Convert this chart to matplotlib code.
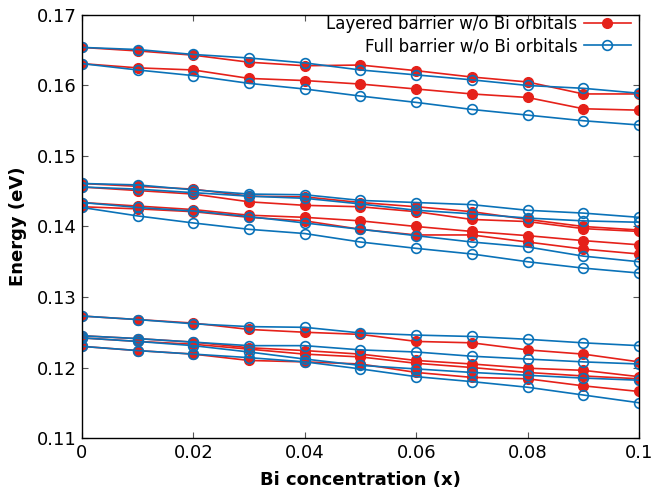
import matplotlib

matplotlib.use("Agg")
import matplotlib.pyplot as plt

# Bi concentration grid
bi_conc = [0.0, 0.01, 0.02, 0.03, 0.04, 0.05, 0.06, 0.07, 0.08, 0.09, 0.10]

# Layered barrier w/o Bi orbitals (eV), one list per level
layered_top_1 = [0.1654, 0.1649, 0.1643, 0.1633, 0.1628, 0.1629, 0.1621, 0.1612, 0.1605, 0.1588, 0.1588]
layered_top_2 = [0.1631, 0.1625, 0.1622, 0.1610, 0.1607, 0.1602, 0.1595, 0.1588, 0.1583, 0.1567, 0.1565]
layered_mid_1 = [0.1461, 0.1457, 0.1453, 0.1443, 0.1442, 0.1434, 0.1428, 0.1421, 0.1410, 0.1400, 0.1395]
layered_mid_2 = [0.1456, 0.1451, 0.1446, 0.1435, 0.1430, 0.1428, 0.1421, 0.1410, 0.1407, 0.1397, 0.1393]
layered_mid_3 = [0.1434, 0.1429, 0.1424, 0.1416, 0.1413, 0.1408, 0.1400, 0.1393, 0.1387, 0.1380, 0.1374]
layered_mid_4 = [0.1428, 0.1425, 0.1421, 0.1413, 0.1408, 0.1396, 0.1388, 0.1388, 0.1378, 0.1368, 0.1361]
layered_low_1 = [0.1273, 0.1268, 0.1263, 0.1254, 0.1250, 0.1247, 0.1237, 0.1235, 0.1225, 0.1219, 0.1208]
layered_low_2 = [0.1245, 0.1241, 0.1236, 0.1228, 0.1224, 0.1219, 0.1210, 0.1205, 0.1199, 0.1196, 0.1187]
layered_low_3 = [0.1242, 0.1237, 0.1233, 0.1226, 0.1219, 0.1215, 0.1206, 0.1200, 0.1193, 0.1188, 0.1184]
layered_low_4 = [0.1230, 0.1224, 0.1219, 0.1210, 0.1208, 0.1205, 0.1193, 0.1186, 0.1184, 0.1174, 0.1166]

# Full barrier w/o Bi orbitals (eV)
full_top_1 = [0.1654, 0.1651, 0.1644, 0.1639, 0.1632, 0.1622, 0.1615, 0.1608, 0.1600, 0.1596, 0.1589]
full_top_2 = [0.1631, 0.1622, 0.1614, 0.1603, 0.1595, 0.1585, 0.1576, 0.1566, 0.1558, 0.1550, 0.1544]
full_mid_1 = [0.1461, 0.1459, 0.1452, 0.1446, 0.1445, 0.1437, 0.1434, 0.1431, 0.1423, 0.1419, 0.1413]
full_mid_2 = [0.1456, 0.1453, 0.1448, 0.1443, 0.1440, 0.1432, 0.1423, 0.1418, 0.1412, 0.1408, 0.1406]
full_mid_3 = [0.1434, 0.1427, 0.1422, 0.1414, 0.1405, 0.1396, 0.1387, 0.1378, 0.1371, 0.1358, 0.1350]
full_mid_4 = [0.1427, 0.1415, 0.1405, 0.1396, 0.1390, 0.1378, 0.1369, 0.1361, 0.1350, 0.1341, 0.1334]
full_low_1 = [0.1273, 0.1268, 0.1262, 0.1258, 0.1257, 0.1249, 0.1246, 0.1244, 0.1240, 0.1235, 0.1231]
full_low_2 = [0.1245, 0.1241, 0.1236, 0.1231, 0.1231, 0.1225, 0.1222, 0.1216, 0.1212, 0.1208, 0.1205]
full_low_3 = [0.1242, 0.1237, 0.1231, 0.1222, 0.1212, 0.1203, 0.1198, 0.1193, 0.1189, 0.1185, 0.1182]
full_low_4 = [0.1230, 0.1224, 0.1219, 0.1214, 0.1208, 0.1198, 0.1187, 0.1180, 0.1172, 0.1161, 0.1150]

layered_levels = [layered_top_1, layered_top_2, layered_mid_1, layered_mid_2, layered_mid_3,
                  layered_mid_4, layered_low_1, layered_low_2, layered_low_3, layered_low_4]
full_levels = [full_top_1, full_top_2, full_mid_1, full_mid_2, full_mid_3,
               full_mid_4, full_low_1, full_low_2, full_low_3, full_low_4]

x_ticks = [0, 0.02, 0.04, 0.06, 0.08, 0.1]
x_tick_labels = ["0", "0.02", "0.04", "0.06", "0.08", "0.1"]
y_ticks = [0.11, 0.12, 0.13, 0.14, 0.15, 0.16, 0.17]

RED = "#e5211a"
BLUE = "#0a72b8"

plt.rcParams["font.family"] = "DejaVu Sans"

fig = plt.figure(figsize=(6.57, 4.96), dpi=100)
ax = fig.add_axes([0.1248, 0.1169, 0.8478, 0.8529])

for i, level in enumerate(layered_levels):
    ax.plot(bi_conc, level, color=RED, linewidth=1.2, marker="o", markersize=7,
            markerfacecolor=RED, markeredgecolor=RED,
            label="Layered barrier w/o Bi orbitals" if i == 0 else None)
for i, level in enumerate(full_levels):
    ax.plot(bi_conc, level, color=BLUE, linewidth=1.2, marker="o", markersize=7,
            markerfacecolor="none", markeredgecolor=BLUE, markeredgewidth=1.2,
            label="Full barrier w/o Bi orbitals" if i == 0 else None)

ax.set_xlim(0, 0.1)
ax.set_ylim(0.11, 0.17)
ax.set_xticks(x_ticks)
ax.set_xticklabels(x_tick_labels)
ax.set_yticks(y_ticks)
ax.set_yticklabels([f"{v:.2f}" for v in y_ticks])
ax.tick_params(direction="in", top=True, right=True, length=4, width=0.8,
               labelsize=13, pad=4, color="#555555")
for spine in ax.spines.values():
    spine.set_linewidth(1.0)

ax.set_xlabel("Bi concentration (x)", fontsize=13, fontweight="bold", labelpad=7)
ax.set_ylabel("Energy (eV)", fontsize=13, fontweight="bold", labelpad=7)

ax.legend(loc="upper right", bbox_to_anchor=(1.0, 1.02), frameon=False,
          markerfirst=False, fontsize=12, handlelength=2.8, handletextpad=0.4,
          labelspacing=0.25, borderaxespad=0.1)

fig.savefig("out.png", dpi=100)
